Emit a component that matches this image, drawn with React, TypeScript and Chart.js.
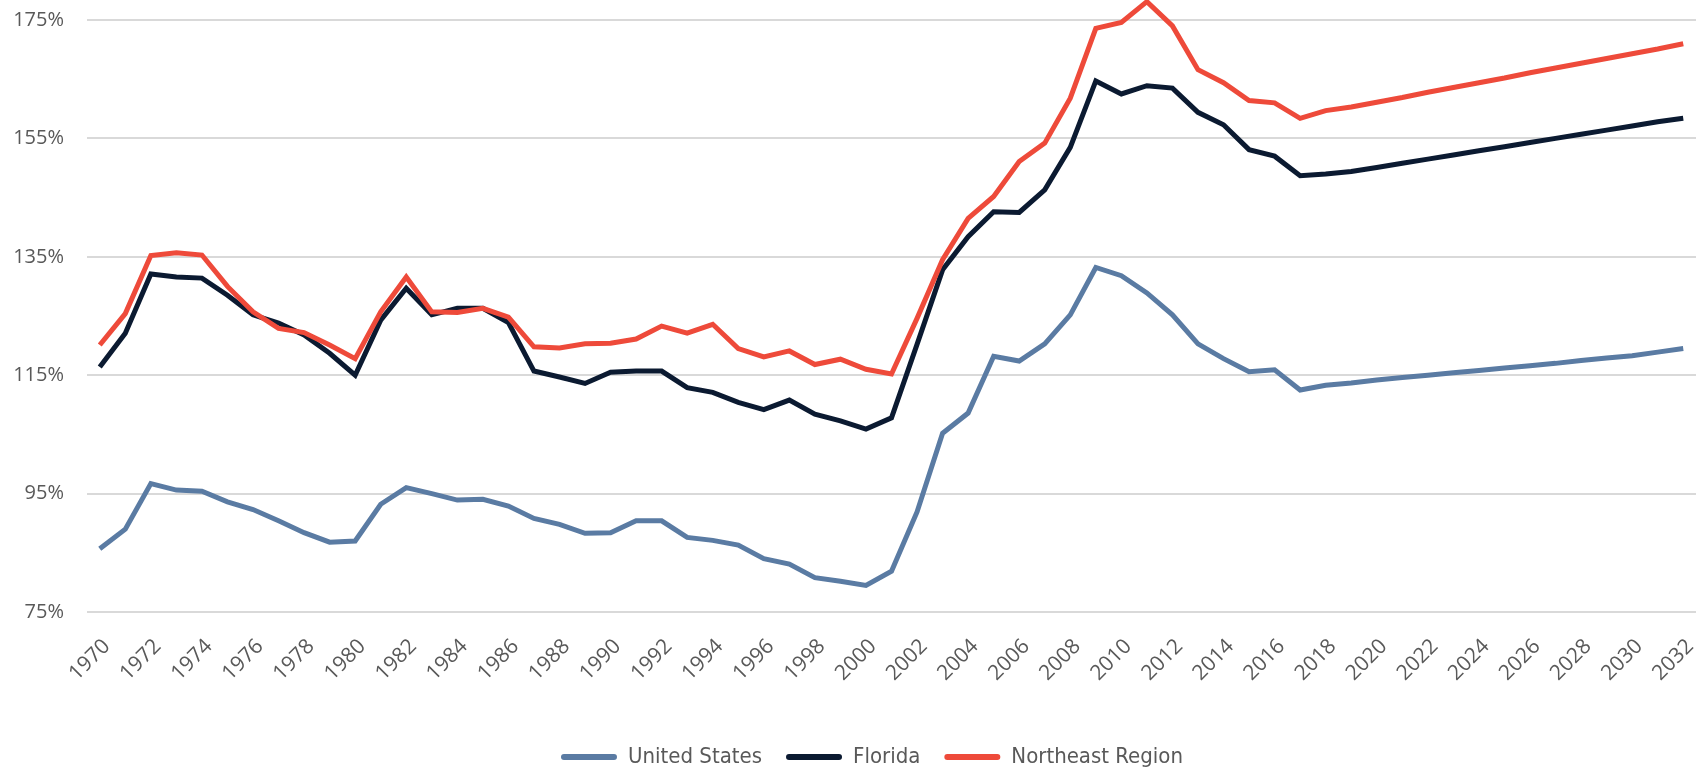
import React, { useEffect, useRef } from "react";
import { Chart, registerables } from "chart.js";

Chart.register(...registerables);

const years: string[] = [];
for (let y = 1970; y <= 2032; y++) years.push(String(y));

const unitedStates = [
  85.7, 89.0, 96.7, 95.6, 95.4, 93.6, 92.3, 90.4, 88.4, 86.8,
  87.0, 93.2, 96.0, 95.0, 93.9, 94.05, 92.9, 90.8, 89.8, 88.3,
  88.4, 90.4, 90.4, 87.6, 87.1, 86.3, 84.0, 83.1, 80.8, 80.2,
  79.5, 81.9, 91.9, 105.2, 108.6, 118.2, 117.4, 120.3, 125.2, 133.2,
  131.8, 128.9, 125.2, 120.3, 117.8, 115.6, 115.9, 112.5, 113.3, 113.7,
  114.2, 114.6, 115.0, 115.4, 115.8, 116.2, 116.6, 117.0, 117.5, 117.9,
  118.3, 118.9, 119.5,
];

const florida = [
  116.4, 122.1, 132.1, 131.6, 131.4, 128.5, 125.2, 123.8, 121.8, 118.7,
  115.0, 124.3, 129.7, 125.2, 126.3, 126.3, 123.9, 115.7, 114.7, 113.6,
  115.5, 115.7, 115.7, 112.9, 112.1, 110.4, 109.2, 110.8, 108.4, 107.3,
  105.9, 107.8, 120.2, 132.8, 138.4, 142.6, 142.5, 146.3, 153.5, 164.7,
  162.5, 163.9, 163.5, 159.4, 157.3, 153.1, 152.0, 148.7, 149.0, 149.4,
  150.1, 150.8, 151.5, 152.2, 152.9, 153.6, 154.3, 155.0, 155.7, 156.4,
  157.1, 157.8, 158.4,
];

const northeastRegion = [
  120.1, 125.4, 135.2, 135.7, 135.3, 130.0, 125.7, 122.9, 122.2, 120.1,
  117.8, 125.7, 131.6, 125.7, 125.6, 126.3, 124.8, 119.8, 119.6, 120.3,
  120.4, 121.1, 123.3, 122.1, 123.6, 119.5, 118.1, 119.1, 116.8, 117.7,
  116.0, 115.2, 124.6, 134.5, 141.5, 145.2, 151.1, 154.2, 161.8, 173.6,
  174.6, 178.1, 174.0, 166.6, 164.4, 161.4, 161.0, 158.4, 159.7, 160.3,
  161.1, 161.9, 162.8, 163.6, 164.4, 165.2, 166.1, 166.9, 167.7, 168.5,
  169.3, 170.1, 171.0,
];

const seriesNames = ["United States", "Florida", "Northeast Region"];
const seriesColors = ["#5A7BA3", "#0B1A31", "#EE4A3A"];

// Draws the x tick labels rotated 45 degrees at the x scale's own tick positions.
const rotatedXLabels = {
  id: "rotatedXLabels",
  afterLayout(chart: any) {
    if (chart.legend) {
      chart.legend.left += 24;
      chart.legend.right += 24;
    }
  },
  afterDraw(chart: any) {
    const xs = chart.scales.x;
    const ctx = chart.ctx;
    ctx.save();
    ctx.fillStyle = "#595959";
    ctx.font = "21px 'Open Sans', sans-serif";
    ctx.textAlign = "right";
    ctx.textBaseline = "middle";
    years.forEach((label, i) => {
      if (i % 2 !== 0) return;
      const x = xs.getPixelForTick(i);
      ctx.save();
      ctx.translate(x + 7, xs.top + 31);
      ctx.rotate(-Math.PI / 4);
      ctx.fillText(label, 0, 0);
      ctx.restore();
    });
    ctx.restore();
  },
};

export default function App() {
  const ref = useRef<HTMLCanvasElement | null>(null);
  useEffect(() => {
    if (!ref.current) return;
    const series = [unitedStates, florida, northeastRegion];
    const chart = new Chart(ref.current, {
      type: "line",
      data: {
        labels: years,
        datasets: series.map((d, i) => ({
          label: seriesNames[i],
          data: d,
          borderColor: seriesColors[i],
          backgroundColor: seriesColors[i],
          borderWidth: 5,
          pointRadius: 0,
          tension: 0,
          clip: false as any,
          order: 2 - i,
        })),
      },
      plugins: [rotatedXLabels],
      options: {
        animation: false,
        responsive: true,
        maintainAspectRatio: false,
        layout: { padding: { top: 20, right: 0, left: 0, bottom: -9 } },
        plugins: {
          tooltip: { enabled: false },
          legend: {
            position: "bottom",
            labels: {
              sort: (a: any, b: any) => a.datasetIndex - b.datasetIndex,
              boxWidth: 56,
              boxHeight: 6,
              padding: 24,
              useBorderRadius: true,
              borderRadius: 3,
              color: "#595959",
              font: {
                family: "'DejaVu Sans Condensed', 'Open Sans', sans-serif",
                size: 22,
              },
              generateLabels: (c: any) => {
                const items = Chart.defaults.plugins.legend.labels.generateLabels(c);
                return items.map((it: any) => ({ ...it, lineWidth: 0, borderRadius: 3 }));
              },
            },
          },
        },
        scales: {
          x: {
            offset: true,
            grid: { display: false, drawTicks: false },
            border: { display: false },
            afterFit: (scale: any) => {
              scale.height = 110;
              scale.paddingLeft = 0;
              scale.paddingRight = 0;
            },
            ticks: { display: false, autoSkip: false },
          },
          y: {
            min: 75,
            max: 175,
            grid: { color: "#D9D9D9", lineWidth: 2, drawTicks: false },
            border: { display: false },
            afterFit: (scale: any) => {
              scale.width = 87;
              scale.paddingTop = 0;
              scale.paddingBottom = 0;
            },
            ticks: {
              stepSize: 20,
              padding: 23,
              color: "#595959",
              font: { family: "'Open Sans', sans-serif", size: 20 },
              callback: (v: any) => v + "%",
            },
          },
        },
      },
    });
    return () => chart.destroy();
  }, []);
  return (
    <div style={{ position: "absolute", left: 0, top: 0, width: 1696, height: 769 }}>
      <canvas ref={ref} />
    </div>
  );
}
